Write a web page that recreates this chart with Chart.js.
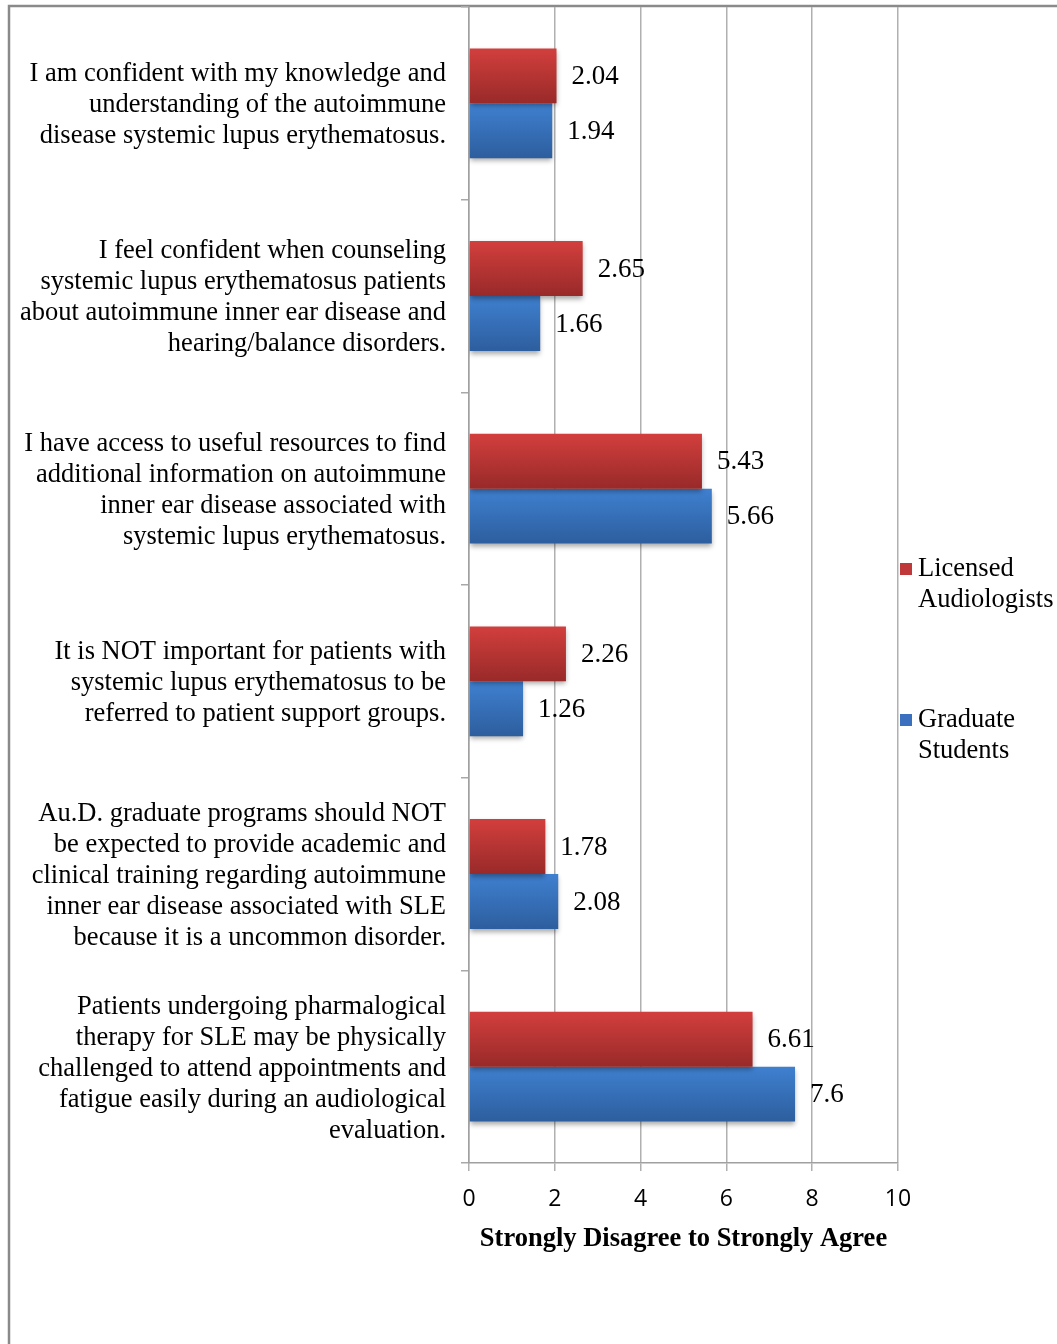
<!DOCTYPE html>
<html>
<head>
<meta charset="utf-8">
<script src="https://cdn.jsdelivr.net/npm/chart.js@4.4.1/dist/chart.umd.min.js"></script>
<style>
  html, body { margin: 0; padding: 0; background: #fff; }
  #wrap { width: 1057px; height: 1344px; position: relative; }
</style>
</head>
<body>
<div id="wrap"><canvas id="myChart"></canvas></div>
<script>
const statements = [
  ["I am confident with my knowledge and", "understanding of the autoimmune", "disease systemic lupus erythematosus."],
  ["I feel confident when counseling", "systemic lupus erythematosus patients", "about autoimmune inner ear disease and", "hearing/balance disorders."],
  ["I have access to useful resources to find", "additional information on autoimmune", "inner ear disease associated with", "systemic lupus erythematosus."],
  ["It is NOT important for patients with", "systemic lupus erythematosus to be", "referred to patient support groups."],
  ["Au.D. graduate programs should NOT", "be expected to provide academic and", "clinical training regarding autoimmune", "inner ear disease associated with SLE", "because it is a uncommon disorder."],
  ["Patients undergoing pharmalogical", "therapy for SLE may be physically", "challenged to attend appointments and", "fatigue easily during an audiological", "evaluation."]
];
const licensed = [2.04, 2.65, 5.43, 2.26, 1.78, 6.61];
const graduate = [1.94, 1.66, 5.66, 1.26, 2.08, 7.6];
const legendLines = [["Licensed", "Audiologists"], ["Graduate", "Students"]];
const xTicks = [0, 2, 4, 6, 8, 10];

const serif = "'Liberation Serif', 'Times New Roman', serif";

// top/bottom colours of each series' shaded bars
const shades = [
  { top: "#d23f3d", bottom: "#982a29", flat: "#c0393a" },
  { top: "#3f80d0", bottom: "#2d5e9e", flat: "#3a70bd" }
];

const framePlugin = {
  id: "frame",
  beforeDraw(chart) {
    const ctx = chart.ctx;
    ctx.save();
    ctx.fillStyle = "#fff";
    ctx.fillRect(0, 0, chart.width, chart.height);
    ctx.strokeStyle = "#8a8a8a";
    ctx.lineWidth = 2.5;
    ctx.beginPath();
    ctx.moveTo(9, chart.height);
    ctx.lineTo(9, 6);
    ctx.lineTo(chart.width, 6);
    ctx.stroke();
    ctx.restore();
  }
};

// vertical gradient per bar plus a soft drop shadow
const shadePlugin = {
  id: "shade",
  beforeDatasetDraw(chart, args) {
    const ctx = chart.ctx;
    const s = shades[args.index];
    args.meta.data.forEach(el => {
      const h = el.height;
      const g = ctx.createLinearGradient(0, el.y - h / 2, 0, el.y + h / 2);
      g.addColorStop(0, s.top);
      g.addColorStop(1, s.bottom);
      el.options = Object.assign({}, el.options, { backgroundColor: g });
    });
    ctx.shadowColor = "rgba(0,0,0,0.35)";
    ctx.shadowBlur = 5;
    ctx.shadowOffsetY = 3;
  },
  afterDatasetDraw(chart) {
    const ctx = chart.ctx;
    ctx.shadowColor = "rgba(0,0,0,0)";
    ctx.shadowBlur = 0;
    ctx.shadowOffsetY = 0;
  }
};

const valueLabels = {
  id: "valueLabels",
  afterDatasetsDraw(chart) {
    const ctx = chart.ctx;
    ctx.save();
    ctx.font = "27px " + serif;
    ctx.fillStyle = "#000";
    ctx.textAlign = "left";
    ctx.textBaseline = "middle";
    chart.data.datasets.forEach((ds, i) => {
      chart.getDatasetMeta(i).data.forEach((el, j) => {
        ctx.fillText(String(ds.data[j]), el.x + 15, el.y + 1);
      });
    });
    ctx.restore();
  }
};

const sideLegend = {
  id: "sideLegend",
  afterDraw(chart) {
    const ctx = chart.ctx;
    const left = chart.chartArea.right + 2;
    const tops = [569, 720];
    ctx.save();
    ctx.font = "26.5px " + serif;
    ctx.textAlign = "left";
    ctx.textBaseline = "middle";
    chart.data.datasets.forEach((ds, i) => {
      const y = tops[i];
      ctx.fillStyle = shades[i].flat;
      ctx.fillRect(left, y - 6, 12, 12);
      ctx.fillStyle = "#000";
      legendLines[i].forEach((line, k) => {
        ctx.fillText(line, left + 18, y + k * 31);
      });
    });
    ctx.restore();
  }
};

new Chart(document.getElementById("myChart"), {
  type: "bar",
  data: {
    labels: statements,
    datasets: [
      { label: "Licensed Audiologists", data: licensed, backgroundColor: shades[0].flat },
      { label: "Graduate Students", data: graduate, backgroundColor: shades[1].flat }
    ]
  },
  options: {
    indexAxis: "y",
    responsive: true,
    maintainAspectRatio: false,
    animation: false,
    datasets: {
      bar: { categoryPercentage: 0.57, barPercentage: 1.0 }
    },
    layout: { padding: { top: 7, left: 0, right: 159, bottom: 89 } },
    plugins: {
      legend: { display: false },
      tooltip: { enabled: false }
    },
    scales: {
      x: {
        min: 0,
        max: 10,
        afterBuildTicks: s => { s.ticks = xTicks.map(v => ({ value: v })); },
        grid: { color: "#b0b0b0", lineWidth: 1.5, tickLength: 8 },
        border: { color: "#a0a0a0", width: 1.5 },
        ticks: {
          color: "#000",
          padding: 15,
          font: { family: "'Open Sans', 'Liberation Sans', sans-serif", size: 23 }
        },
        title: {
          display: true,
          text: "Strongly Disagree to Strongly Agree",
          color: "#000",
          padding: 0,
          font: { family: serif, size: 26.5, weight: "bold" }
        },
        afterFit: s => { s.height = 92; s.paddingLeft = 0; s.paddingRight = 0; }
      },
      y: {
        grid: { drawOnChartArea: false, color: "#a8a8a8", lineWidth: 1.5, tickLength: 8 },
        border: { color: "#a0a0a0", width: 1.5 },
        ticks: {
          color: "#000",
          padding: 15,
          labelOffset: 2,
          font: { family: serif, size: 26.5, lineHeight: 1.17 }
        },
        afterFit: s => { s.width = 469; s.paddingTop = 0; s.paddingBottom = 0; }
      }
    }
  },
  plugins: [framePlugin, shadePlugin, valueLabels, sideLegend]
});
</script>
</body>
</html>
